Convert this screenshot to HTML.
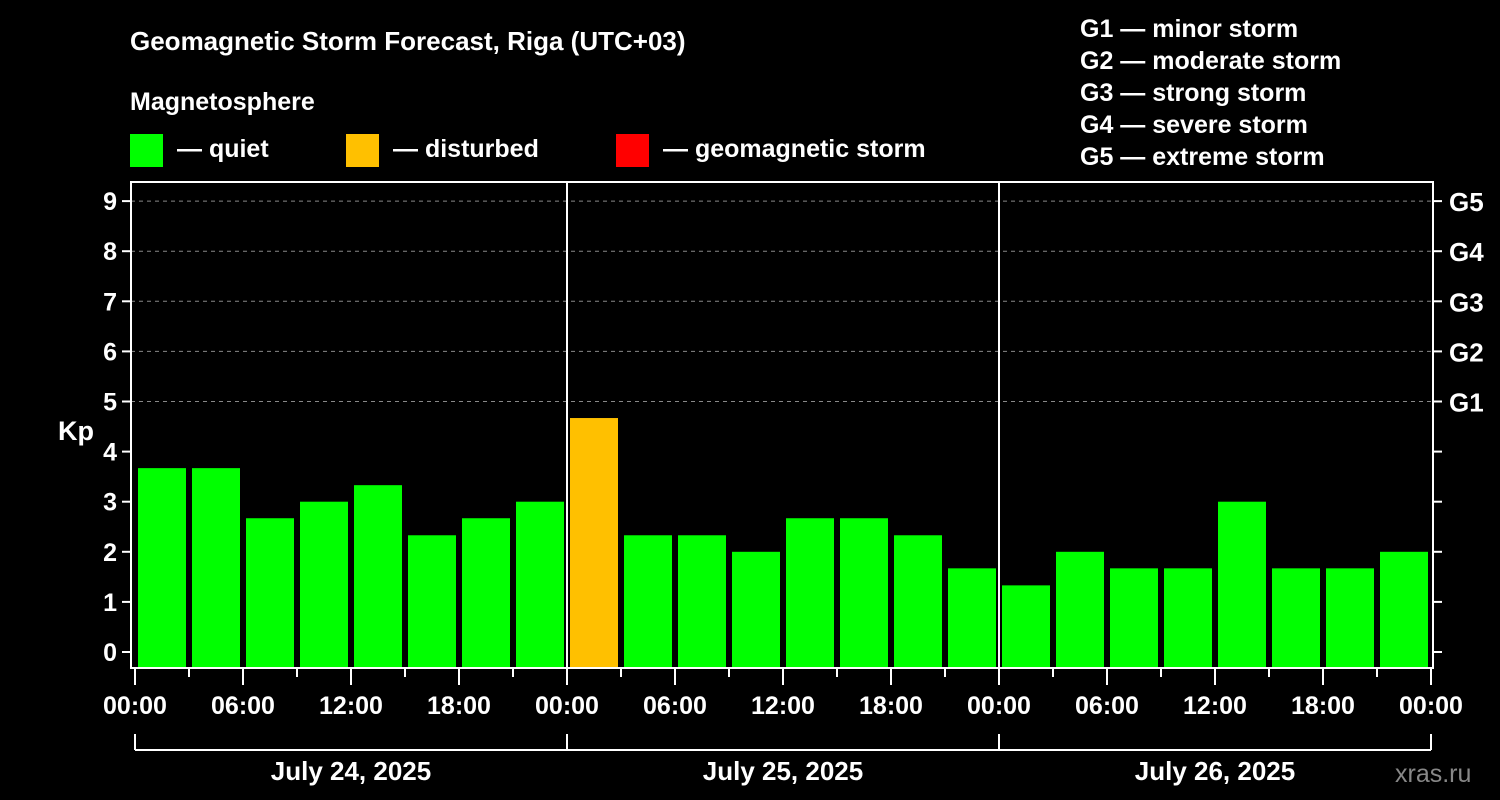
<!DOCTYPE html>
<html><head><meta charset="utf-8"><style>
html,body{margin:0;padding:0;background:#000;}
svg{display:block;font-family:"Liberation Sans",Arial,sans-serif;font-weight:bold;}
</style></head><body>
<svg id="chart" width="1500" height="800" viewBox="0 0 1500 800">
<rect width="1500" height="800" fill="#000"/>
<text x="130" y="50" fill="#fff" font-size="26">Geomagnetic Storm Forecast, Riga (UTC+03)</text>
<text x="130" y="110" fill="#fff" font-size="25">Magnetosphere</text>
<g><rect x="130" y="134" width="33" height="33" fill="#00ff00"/><text x="177" y="157" fill="#fff" font-size="25">— quiet</text></g>
<g><rect x="346" y="134" width="33" height="33" fill="#ffc000"/><text x="393" y="157" fill="#fff" font-size="25">— disturbed</text></g>
<g><rect x="616" y="134" width="33" height="33" fill="#ff0000"/><text x="663" y="157" fill="#fff" font-size="25">— geomagnetic storm</text></g>
<g fill="#fff" font-size="25">
<text x="1080" y="37">G1 — minor storm</text>
<text x="1080" y="69">G2 — moderate storm</text>
<text x="1080" y="101">G3 — strong storm</text>
<text x="1080" y="133">G4 — severe storm</text>
<text x="1080" y="165">G5 — extreme storm</text>
</g>
<text x="58" y="440" fill="#fff" font-size="27">Kp</text>
<text x="1395" y="782" fill="#888" font-size="25" font-weight="normal">xras.ru</text>
<g id="plot"></g>
</svg>
<script>
const kpValues = [3.67,3.67,2.67,3,3.33,2.33,2.67,3, 4.67,2.33,2.33,2,2.67,2.67,2.33,1.67, 1.33,2,1.67,1.67,3,1.67,1.67,2];
const dayLabels = ["July 24, 2025","July 25, 2025","July 26, 2025"];
const hourLabels = ["00:00","06:00","12:00","18:00"];
const yTicks = [0,1,2,3,4,5,6,7,8,9];
const gLabels = ["G1","G2","G3","G4","G5"];
const gLevels = [5,6,7,8,9];

const NS="http://www.w3.org/2000/svg";
const plot=document.getElementById('plot');
const L=131,R=1433,T=182,B=668,X0=135,DAY=432;
const y=v=>652-v*50.1;
const x=h=>X0+h*(DAY/24);
function mk(tag,attrs,parent){const e=document.createElementNS(NS,tag);for(const k in attrs)e.setAttribute(k,attrs[k]);(parent||plot).appendChild(e);return e;}
// grid
gLevels.forEach(v=>{const l=mk('line',{x1:L,x2:R,y1:y(v),y2:y(v),stroke:'#888','stroke-dasharray':'4,4','stroke-width':1});

});
// bars
kpValues.forEach((v,i)=>{const c=v>=5?'#ff0000':(v>=4?'#ffc000':'#00ff00');
const b=mk('rect',{x:x(i*3)+3,y:y(v),width:48,height:B-y(v),fill:c});

});
// day separators
for(let d=1;d<dayLabels.length;d++){const s=mk('line',{x1:x(d*24),x2:x(d*24),y1:T,y2:B,stroke:'#fff','stroke-width':2});

}
// frame
const f=mk('rect',{x:L,y:T,width:R-L,height:B-T,fill:'none',stroke:'#fff','stroke-width':2});


// y ticks
yTicks.forEach(v=>{mk('line',{x1:L-9,x2:L,y1:y(v),y2:y(v),stroke:'#fff','stroke-width':2});
mk('line',{x1:R,x2:R+9,y1:y(v),y2:y(v),stroke:'#fff','stroke-width':2});
const t=mk('text',{x:L-14,y:y(v)+9,fill:'#fff','font-size':25,'text-anchor':'end'});t.textContent=v;

});
gLabels.forEach((g,i)=>{const t=mk('text',{x:1449,y:y(gLevels[i])+10,fill:'#fff','font-size':26});t.textContent=g;

});
// x ticks
for(let h=0;h<=24*dayLabels.length;h+=3){const major=h%6===0;
mk('line',{x1:x(h),x2:x(h),y1:B,y2:B+(major?17:9),stroke:'#fff','stroke-width':2});
if(major){const t=mk('text',{x:x(h),y:714,fill:'#fff','font-size':25,'text-anchor':'middle'});t.textContent=hourLabels[(h/6)%4];

}}
// day bracket
mk('line',{x1:x(0),x2:x(24*dayLabels.length),y1:750,y2:750,stroke:'#fff','stroke-width':2});
for(let d=0;d<=dayLabels.length;d++)mk('line',{x1:x(d*24),x2:x(d*24),y1:734,y2:750,stroke:'#fff','stroke-width':2});
dayLabels.forEach((dl,d)=>{const t=mk('text',{x:x(d*24+12),y:780,fill:'#fff','font-size':26,'text-anchor':'middle'});t.textContent=dl;

});
</script>
</body></html>
